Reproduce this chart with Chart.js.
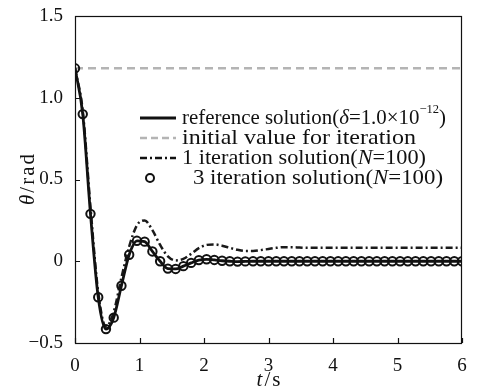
<!DOCTYPE html>
<html>
<head>
<meta charset="utf-8">
<script src="https://cdn.jsdelivr.net/npm/chart.js@4.4.1/dist/chart.umd.min.js"></script>
<style>
html,body{margin:0;padding:0;background:#fff;}
canvas{display:block;}
</style>
</head>
<body>
<canvas id="c" width="481" height="391"></canvas>
<script>
// ---- data ----
const tSamples = [0,0.12,0.24,0.36,0.48,0.60,0.72,0.84,0.96,1.08,1.20,1.32,1.44,1.56,1.68,1.80,1.92,2.04,2.16,2.28,2.40,2.52,2.64,2.76,2.88,3.00,3.12,3.24,3.36,3.48,3.60,3.72,3.84,3.96,4.08,4.20,4.32,4.44,4.56,4.68,4.80,4.92,5.04,5.16,5.28,5.40,5.52,5.64,5.76,5.88,6.00];
const referenceSolution = [1.18,0.90,0.29,-0.22,-0.415,-0.345,-0.15,0.04,0.125,0.12,0.06,0.0,-0.045,-0.047,-0.03,-0.01,0.007,0.012,0.008,0.003,0.0,-0.002,-0.001,0,0,0,0,0,0,0,0,0,0,0,0,0,0,0,0,0,0,0,0,0,0,0,0,0,0,0,0];
const iteration3 = [1.18,0.90,0.29,-0.22,-0.415,-0.345,-0.15,0.04,0.125,0.12,0.06,0.0,-0.045,-0.047,-0.03,-0.01,0.007,0.012,0.008,0.003,0.0,-0.002,-0.001,0,0,0,0,0,0,0,0,0,0,0,0,0,0,0,0,0,0,0,0,0,0,0,0,0,0,0,0];
const iteration1 = [1.18,0.92,0.33,-0.19,-0.40,-0.31,-0.10,0.09,0.22,0.25,0.19,0.10,0.03,0.005,0.015,0.045,0.08,0.10,0.103,0.095,0.082,0.07,0.063,0.063,0.068,0.075,0.082,0.086,0.086,0.084,0.082,0.082,0.082,0.082,0.082,0.082,0.082,0.082,0.082,0.082,0.082,0.082,0.082,0.082,0.082,0.082,0.082,0.082,0.082,0.082,0.082];
const initialT = [0,6];
const initialValue = [1.18,1.18];
const xTickLabels = ['0','1','2','3','4','5','6'];
const yTickLabels = ['\u22120.5','0','0.5','1.0','1.5'];

const pts = (xs, ys) => xs.map((x,i)=>({x:x,y:ys[i]}));
const SERIF = '"Liberation Serif", "Times New Roman", serif';

function segFont(s, size){
  const fs = s.sup ? size*0.6 : size;
  return (s.italic?'italic ':'') + fs + 'px ' + SERIF;
}
function drawRich(ctx, x, y, segs, size, spacing){
  spacing = spacing || 0;
  let cx = x;
  for (const s of segs){
    ctx.font = segFont(s, size);
    const dy = s.sup ? -size*0.38 : 0;
    if (spacing){
      for (const ch of s.text){ ctx.fillText(ch, cx, y+dy); cx += ctx.measureText(ch).width + spacing; }
    } else {
      ctx.fillText(s.text, cx, y+dy);
      cx += ctx.measureText(s.text).width;
    }
  }
  return cx - x;
}
function richWidth(ctx, segs, size, spacing){
  spacing = spacing || 0;
  let w=0;
  for (const s of segs){
    ctx.font = segFont(s, size);
    for (const ch of s.text){ w += ctx.measureText(ch).width + spacing; }
  }
  return w - spacing;
}
// draw rich text fitted so its right end lands at xEnd (horizontal scale only)
function drawRichFit(ctx, x, xEnd, y, segs, size){
  const w = richWidth(ctx, segs, size, 0);
  const sx = (xEnd - x) / w;
  ctx.save();
  ctx.translate(x, y);
  ctx.scale(sx, 1);
  drawRich(ctx, 0, 0, segs, size, 0);
  ctx.restore();
}

const decor = {
  id:'decor',
  afterDatasetsDraw(chart){
    const ctx = chart.ctx, a = chart.chartArea;
    const xs = chart.scales.x, ys = chart.scales.y;
    ctx.save();
    // box
    ctx.strokeStyle = '#111'; ctx.lineWidth = 1.2;
    ctx.strokeRect(a.left+0.5, a.top+0.5, a.right-a.left-1, a.bottom-a.top);
    // inward ticks
    ctx.beginPath();
    xs.ticks.forEach(t=>{ const px = Math.round(xs.getPixelForValue(t.value))+0.5; ctx.moveTo(px, a.bottom); ctx.lineTo(px, a.bottom-5); });
    ys.ticks.forEach(t=>{ const py = Math.round(ys.getPixelForValue(t.value))+0.5; ctx.moveTo(a.left, py); ctx.lineTo(a.left+5, py); });
    ctx.stroke();

    // legend
    const fs = 21;
    ctx.fillStyle = '#111'; ctx.textBaseline = 'middle'; ctx.textAlign='left';
    const lx0 = 140, lx1 = 176, tx = 182;
    const rows = [118, 138, 158, 178];
    ctx.setLineDash([]); ctx.strokeStyle='#111'; ctx.lineWidth=2.8;
    ctx.beginPath(); ctx.moveTo(lx0, rows[0]); ctx.lineTo(lx1, rows[0]); ctx.stroke();
    drawRichFit(ctx, tx, 446, rows[0], [{text:'reference solution('},{text:'\u03b4',italic:true},{text:'=1.0\u00d710'},{text:'\u221212',sup:true},{text:')'}], fs);
    ctx.strokeStyle='#b4b4b4'; ctx.lineWidth=2.5; ctx.setLineDash([7,4]);
    ctx.beginPath(); ctx.moveTo(lx0, rows[1]); ctx.lineTo(lx1, rows[1]); ctx.stroke();
    drawRichFit(ctx, tx, 416, rows[1], [{text:'initial value for iteration'}], fs);
    ctx.strokeStyle='#111'; ctx.lineWidth=2.5; ctx.setLineDash([7,3,2,3]);
    ctx.beginPath(); ctx.moveTo(lx0, rows[2]); ctx.lineTo(lx1, rows[2]); ctx.stroke();
    drawRichFit(ctx, tx, 426, rows[2], [{text:'1 iteration solution('},{text:'N',italic:true},{text:'=100)'}], fs);
    ctx.setLineDash([]); ctx.lineWidth=2;
    ctx.beginPath(); ctx.arc(150, rows[3], 4, 0, Math.PI*2); ctx.stroke();
    drawRichFit(ctx, 193, 443, rows[3], [{text:'3 iteration solution('},{text:'N',italic:true},{text:'=100)'}], fs);

    // axis titles
    const tfs = 21, sp = 2;
    const xsegs = [{text:'t',italic:true},{text:'/s'}];
    const xw = richWidth(ctx, xsegs, tfs, sp);
    drawRich(ctx, (a.left+a.right)/2 - xw/2, 380, xsegs, tfs, sp);
    const ysegs = [{text:'\u03b8',italic:true},{text:'/rad'}];
    const yw = richWidth(ctx, ysegs, tfs, sp);
    ctx.translate(28, (a.top+a.bottom)/2);
    ctx.rotate(-Math.PI/2);
    drawRich(ctx, -yw/2, 0, ysegs, tfs, sp);
    ctx.restore();
  }
};

new Chart(document.getElementById('c'), {
  type:'line',
  data:{
    datasets:[
      {label:'3 iteration solution(N=100)', data:pts(tSamples, iteration3), showLine:false,
       pointRadius:4.2, pointBorderWidth:2, pointBorderColor:'#111', pointBackgroundColor:'rgba(0,0,0,0)', order:0},
      {label:'reference solution', data:pts(tSamples, referenceSolution), borderColor:'#111', borderWidth:2.8,
       pointRadius:0, cubicInterpolationMode:'monotone', order:1},
      {label:'1 iteration solution(N=100)', data:pts(tSamples, iteration1), borderColor:'#1a1a1a', borderWidth:2.5,
       borderDash:[7,3,2,3], pointRadius:0, cubicInterpolationMode:'monotone', order:2},
      {label:'initial value for iteration', data:pts(initialT, initialValue), borderColor:'#b4b4b4', borderWidth:2.5,
       borderDash:[8,5], pointRadius:0, order:3}
    ]
  },
  options:{
    responsive:false, animation:false, devicePixelRatio:1,
    layout:{padding:{left:0, right:19, top:16, bottom:0}},
    plugins:{legend:{display:false}, tooltip:{enabled:false}},
    scales:{
      x:{type:'linear', min:0, max:6,
         ticks:{stepSize:1, color:'#111', padding:4, font:{family:SERIF, size:19}, maxRotation:0,
                callback:(v,i)=>xTickLabels[i]},
         grid:{display:false}, border:{display:false},
         afterFit:(s)=>{s.height=48;}},
      y:{type:'linear', min:-0.5, max:1.5,
         ticks:{stepSize:0.5, color:'#111', padding:4, font:{family:SERIF, size:19},
                callback:(v,i)=>yTickLabels[i]},
         grid:{display:false}, border:{display:false},
         afterFit:(s)=>{s.width=75;}}
    }
  },
  plugins:[decor]
});
</script>
</body>
</html>
